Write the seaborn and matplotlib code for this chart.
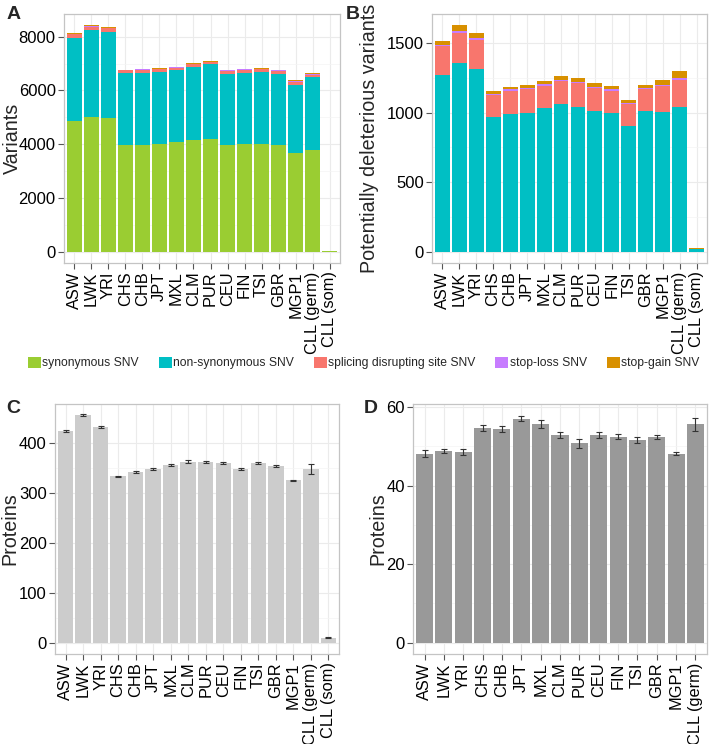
import numpy as np
import pandas as pd
import matplotlib

matplotlib.use("Agg")
import matplotlib.pyplot as plt
import seaborn as sns
from matplotlib.patches import Patch

# populations
pops = ["ASW", "LWK", "YRI", "CHS", "CHB", "JPT", "MXL", "CLM", "PUR",
        "CEU", "FIN", "TSI", "GBR", "MGP1", "CLL (germ)", "CLL (som)"]

# panel A - all variants
a_syn = [4850, 5005, 4970, 3975, 3975, 4025, 4075, 4145, 4185, 3975, 4025, 4025, 3975, 3670, 3770, 15]
a_nonsyn = [3100, 3240, 3215, 2675, 2690, 2660, 2675, 2725, 2785, 2650, 2625, 2660, 2650, 2550, 2735, 25]
a_splice = [149, 128, 134, 94, 116, 118, 96, 124, 73, 112, 126, 118, 113, 113, 81, 0]
a_stoploss = [5, 15, 14, 5, 10, 7, 14, 7, 11, 12, 12, 7, 9, 11, 17, 0]
a_stopgain = [31, 41, 36, 24, 19, 24, 23, 29, 26, 24, 22, 24, 26, 36, 47, 0]

# panel B - potentially deleterious
b_nonsyn = [1270, 1360, 1315, 968, 992, 997, 1032, 1061, 1044, 1014, 997, 902, 1014, 1006, 1044, 20]
b_splice = [209, 214, 209, 159, 166, 171, 160, 166, 167, 161, 161, 159, 154, 186, 190, 0]
b_stoploss = [7, 16, 14, 5, 10, 7, 14, 7, 11, 12, 12, 7, 9, 11, 17, 0]
b_stopgain = [31, 41, 36, 24, 19, 24, 23, 29, 26, 24, 22, 24, 26, 36, 47, 4]

# panel C - proteins
c_mean = [423, 455, 431, 333, 342, 348, 355, 362, 361, 359, 348, 359, 354, 325, 347, 10]
c_err = [2, 2, 2, 1.5, 2, 2, 2, 3, 2, 2, 2, 2, 2, 1, 10, 1.5]

# panel D - proteins (no somatic)
d_pops = pops[:-1]
d_mean = [48.1, 48.9, 48.6, 54.7, 54.4, 57.1, 55.8, 52.9, 50.8, 52.9, 52.5, 51.6, 52.5, 48.1, 55.6]
d_err = [0.9, 0.5, 0.7, 0.8, 0.7, 0.7, 1.0, 0.8, 1.1, 0.8, 0.7, 0.7, 0.5, 0.4, 1.6]

var_labels = ["synonymous SNV", "non-synonymous SNV", "splicing disrupting site SNV",
              "stop-loss SNV", "stop-gain SNV"]
var_colors = ["#9acd32", "#00bfc4", "#f8766d", "#c77cff", "#d89000"]

sns.set_theme(style="white")
plt.rcParams["font.family"] = ["Liberation Sans", "DejaVu Sans"]

fig = plt.figure(figsize=(7.09, 7.44), dpi=100)
ax_a = fig.add_axes([0.0903, 0.6465, 0.3892, 0.3348])
ax_b = fig.add_axes([0.6093, 0.6465, 0.3879, 0.3348])
ax_c = fig.add_axes([0.0776, 0.121, 0.4004, 0.336])
ax_d = fig.add_axes([0.5825, 0.121, 0.4147, 0.336])


def style_axes(ax, yticks, ylim, ylabel, n, label_x):
    ax.set_xlim(-0.6, n - 1 + 0.6)
    ax.set_ylim(*ylim)
    ax.set_yticks(yticks)
    minor = [(yticks[i] + yticks[i + 1]) / 2 for i in range(len(yticks) - 1)]
    ax.set_yticks(minor, minor=True)
    ax.grid(True, which="major", color="#ebebeb", linewidth=0.8)
    ax.grid(True, which="minor", axis="y", color="#f4f4f4", linewidth=0.5)
    ax.set_axisbelow(True)
    for s in ax.spines.values():
        s.set_color("#c4c4c4")
        s.set_linewidth(0.9)
    ax.tick_params(axis="both", which="major", length=4, width=0.8, color="#555555",
                   direction="out", left=True, bottom=True, pad=2)
    ax.tick_params(axis="y", which="minor", length=0)
    ax.tick_params(axis="y", labelsize=12, labelcolor="black")
    ax.tick_params(axis="x", labelsize=11.8, labelcolor="black", rotation=90)
    for t in ax.get_xticklabels():
        t.set_verticalalignment("top")
        t.set_horizontalalignment("center")
    ax.set_xlabel("")
    ax.set_ylabel(ylabel, fontsize=14.2)
    # label_x is the right edge of the rotated label, in axes fraction
    ax.yaxis.set_label_coords(label_x, 0.5)


def stacked(ax, layers, colors):
    # draw cumulative sums, tallest first, so each layer shows as a segment
    cum = np.cumsum(np.array(layers, dtype=float), axis=0)
    for i in range(len(layers) - 1, -1, -1):
        df = pd.DataFrame({"pop": pops, "val": cum[i]})
        sns.barplot(data=df, x="pop", y="val", order=pops, color=colors[i],
                    saturation=1, width=0.88, linewidth=0, errorbar=None, ax=ax)


stacked(ax_a, [a_syn, a_nonsyn, a_splice, a_stoploss, a_stopgain], var_colors)
style_axes(ax_a, [0, 2000, 4000, 6000, 8000], (-421, 8850), "Variants", len(pops), -0.152)

stacked(ax_b, [b_nonsyn, b_splice, b_stoploss, b_stopgain], var_colors[1:])
style_axes(ax_b, [0, 500, 1000, 1500], (-82, 1712), "Potentially deleterious variants",
           len(pops), -0.192)

df_c = pd.DataFrame({"pop": pops, "val": c_mean})
sns.barplot(data=df_c, x="pop", y="val", order=pops, color="#cccccc", saturation=1,
            width=0.88, linewidth=0, errorbar=None, ax=ax_c)
ax_c.errorbar(np.arange(len(pops)), c_mean, yerr=c_err, fmt="none", ecolor="#333333",
              elinewidth=0.8, capsize=2, capthick=0.8)
style_axes(ax_c, [0, 100, 200, 300, 400], (-22.75, 477.75), "Proteins", len(pops), -0.126)

df_d = pd.DataFrame({"pop": d_pops, "val": d_mean})
sns.barplot(data=df_d, x="pop", y="val", order=d_pops, color="#999999", saturation=1,
            width=0.88, linewidth=0, errorbar=None, ax=ax_d)
ax_d.errorbar(np.arange(len(d_pops)), d_mean, yerr=d_err, fmt="none", ecolor="#333333",
              elinewidth=0.8, capsize=2, capthick=0.8)
style_axes(ax_d, [0, 20, 40, 60], (-2.9, 60.8), "Proteins", len(d_pops), -0.088)

# panel letters
for lab, x, y in [("A", 0.009, 0.981), ("B", 0.488, 0.981), ("C", 0.009, 0.451), ("D", 0.513, 0.451)]:
    fig.text(x, y, lab, fontsize=14, fontweight="bold", ha="left", va="center")

handles = [Patch(facecolor=c, edgecolor="none") for c in var_colors]
fig.legend(handles, var_labels, loc="center", bbox_to_anchor=(0.513, 0.512), ncol=5,
           frameon=False, handlelength=1.07, handleheight=1.07, handletextpad=0.1,
           columnspacing=1.65, prop={"family": ["Liberation Sans"], "size": 8.7})

fig.savefig("out.png", dpi=100)
